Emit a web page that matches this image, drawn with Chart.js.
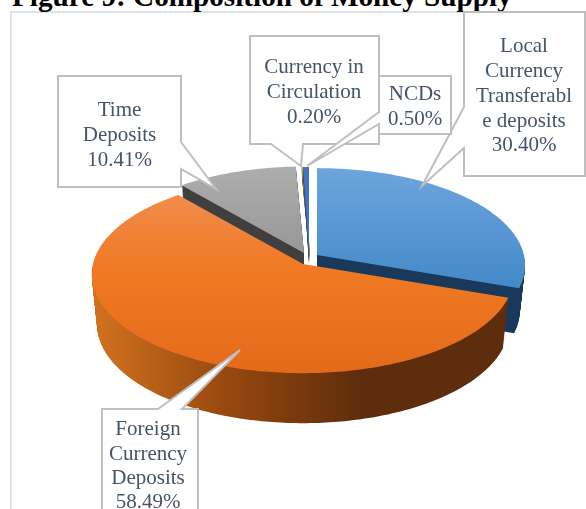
<!DOCTYPE html>
<html>
<head>
<meta charset="utf-8">
<script src="https://cdn.jsdelivr.net/npm/chart.js@4/dist/chart.umd.min.js"></script>
<style>
    html, body { margin: 0; padding: 0; background: #fff; overflow: hidden; }
    #page { position: relative; width: 586px; height: 509px; overflow: hidden; }
    #title { position: absolute; left: 12px; top: -20px; white-space: nowrap;
        font: bold 29.2px/32px "Liberation Serif", serif; color: #000; }
    #frame { position: absolute; left: 10px; top: 11px; width: 600px; height: 520px;
        border-left: 2px solid #dbe2ec; border-top: 2px solid #dbe2ec; }
    canvas { position: absolute; left: 0; top: 0; }
</style>
</head>
<body>
<div id="page">
    <div id="frame"></div>
    <div id="title">Figure 9: Composition of Money Supply</div>
    <canvas id="moneyChart" width="586" height="509"></canvas>
</div>
<script>
// data
const categories = [
    ['Local', 'Currency', 'Transferabl', 'e deposits'],
    ['Foreign', 'Currency', 'Deposits'],
    ['Time', 'Deposits'],
    ['Currency in', 'Circulation'],
    ['NCDs']
];
const shares = [30.40, 58.49, 10.41, 0.20, 0.50];

// looks of the 3d pie
const topColors = ['#5b9bd5', '#ed7d31', '#a5a5a5', '#d6a300', '#4472c4'];
const sideColors = ['#1a3a5c', '#8a420f', '#404040', '#8a6a00', '#2a4a86'];
const explode = [[11, 0], [-3, 9], [-2, -2], [4, 0], [3, 0]];
const radiusScale = [0.985, 1, 0.98, 1, 1];
const depths = [45, 50, 47, 9, 9];
const drawOrder = [2, 3, 4, 0, 1];
const tilt = 0.4643;
const persp = 0.107;

// callout boxes: box rect, pointer (two base points and tip), text centre, line y's
const callouts = [
    { idx: 2, box: [58, 76, 181, 187], ptr: [[181, 142], [216, 189], [181, 169]], side: 'r', cx: 119.5, ys: [110, 135, 160] },
    { idx: 0, box: [464, 12, 585, 176], ptr: [[464, 148], [422, 186], [464, 107]], side: 'l', cx: 524, ys: [46, 71, 96, 121, 145] },
    { idx: 3, box: [250, 36, 379, 144], ptr: [[303, 144], [301, 166], [271, 144]], side: 'b', cx: 314, ys: [67, 92, 117] },
    { idx: 4, box: [379, 76, 451, 134], ptr: [[379, 124], [307, 166], [379, 112]], side: 'l', cx: 415, ys: [94, 119] },
    { idx: 1, box: [102, 409, 198, 540], ptr: [[158, 409], [240, 350], [182, 409]], side: 't', cx: 148, ys: [429, 454, 478, 502] }
];

function project(arc, angle, scale) {
    const X = arc.outerRadius * Math.cos(angle) * scale;
    const Y = arc.outerRadius * Math.sin(angle) * scale;
    const w = 1 - persp * Y / arc.outerRadius;
    return [X / w, tilt * Y / w];
}

function slicePath(ctx, arc, ox, oy, shrink, scale) {
    const steps = Math.max(4, Math.ceil((arc.endAngle - arc.startAngle) * 60));
    ctx.beginPath();
    ctx.moveTo(ox, oy);
    for (let i = 0; i <= steps; i++) {
        const a = arc.startAngle + (arc.endAngle - arc.startAngle) * i / steps;
        const p = project(arc, a, scale);
        ctx.lineTo(ox + p[0] * shrink, oy + p[1]);
    }
    ctx.closePath();
}

function sideFill(ctx, i) {
    if (i !== 1) return sideColors[i];
    const g = ctx.createLinearGradient(93, 0, 360, 0);
    g.addColorStop(0, '#d2721f');
    g.addColorStop(0.5, '#98480f');
    g.addColorStop(1, '#5e2d0c');
    return g;
}

function topFill(ctx, i) {
    if (i === 0) {
        const g = ctx.createLinearGradient(0, 168, 0, 292);
        g.addColorStop(0, '#6da5dd');
        g.addColorStop(1, '#4288c8');
        return g;
    }
    if (i === 1) {
        const g = ctx.createLinearGradient(0, 195, 0, 375);
        g.addColorStop(0, '#f08c4c');
        g.addColorStop(0.4, '#f07a24');
        g.addColorStop(1, '#e46a1a');
        return g;
    }
    if (i === 2) {
        const g = ctx.createLinearGradient(0, 168, 0, 255);
        g.addColorStop(0, '#adadad');
        g.addColorStop(1, '#979797');
        return g;
    }
    return topColors[i];
}

const pie3d = {
    id: 'pie3d',
    // the arcs are laid out by Chart.js, only the drawing is tilted here
    beforeDatasetsDraw(chart) {
        const ctx = chart.ctx;
        const arcs = chart.getDatasetMeta(0).data;
        drawOrder.forEach(i => {
            const arc = arcs[i];
            const ox = arc.x + explode[i][0];
            const oy = arc.y + explode[i][1];
            ctx.fillStyle = sideFill(ctx, i);
            for (let d = depths[i]; d >= 1; d--) {
                slicePath(ctx, arc, ox, oy + d, 1 - 0.025 * d / depths[i], radiusScale[i]);
                ctx.fill();
            }
            ctx.fillStyle = topFill(ctx, i);
            slicePath(ctx, arc, ox, oy, 1, radiusScale[i]);
            ctx.fill();
        });
        return false;
    },
    afterDraw(chart) {
        const ctx = chart.ctx;
        callouts.forEach(c => {
            const [l, t, r, b] = c.box;
            const [p1, tip, p2] = c.ptr;
            ctx.beginPath();
            ctx.moveTo(l, t);
            if (c.side === 't') { ctx.lineTo(p1[0], t); ctx.lineTo(tip[0], tip[1]); ctx.lineTo(p2[0], t); }
            ctx.lineTo(r, t);
            if (c.side === 'r') { ctx.lineTo(r, p1[1]); ctx.lineTo(tip[0], tip[1]); ctx.lineTo(r, p2[1]); }
            ctx.lineTo(r, b);
            if (c.side === 'b') { ctx.lineTo(p1[0], b); ctx.lineTo(tip[0], tip[1]); ctx.lineTo(p2[0], b); }
            ctx.lineTo(l, b);
            if (c.side === 'l') { ctx.lineTo(l, p1[1]); ctx.lineTo(tip[0], tip[1]); ctx.lineTo(l, p2[1]); }
            ctx.closePath();
            ctx.fillStyle = '#ffffff';
            ctx.fill();
            ctx.strokeStyle = '#bfbfbf';
            ctx.lineWidth = 2;
            ctx.stroke();

            const lines = categories[c.idx].concat(shares[c.idx].toFixed(2) + '%');
            ctx.fillStyle = '#44546a';
            ctx.font = '21px "Liberation Serif", serif';
            ctx.textAlign = 'center';
            ctx.textBaseline = 'middle';
            lines.forEach((txt, n) => ctx.fillText(txt, c.cx, c.ys[n]));
        });
    }
};

new Chart(document.getElementById('moneyChart').getContext('2d'), {
    type: 'pie',
    data: {
        labels: categories.map(l => l.join(' ')),
        datasets: [{
            data: shares,
            backgroundColor: topColors,
            borderWidth: 0
        }]
    },
    options: {
        responsive: false,
        animation: false,
        layout: { padding: { left: 96, right: 70, top: 45, bottom: 44 } },
        plugins: { legend: { display: false }, tooltip: { enabled: false } }
    },
    plugins: [pie3d]
});
</script>
</body>
</html>
